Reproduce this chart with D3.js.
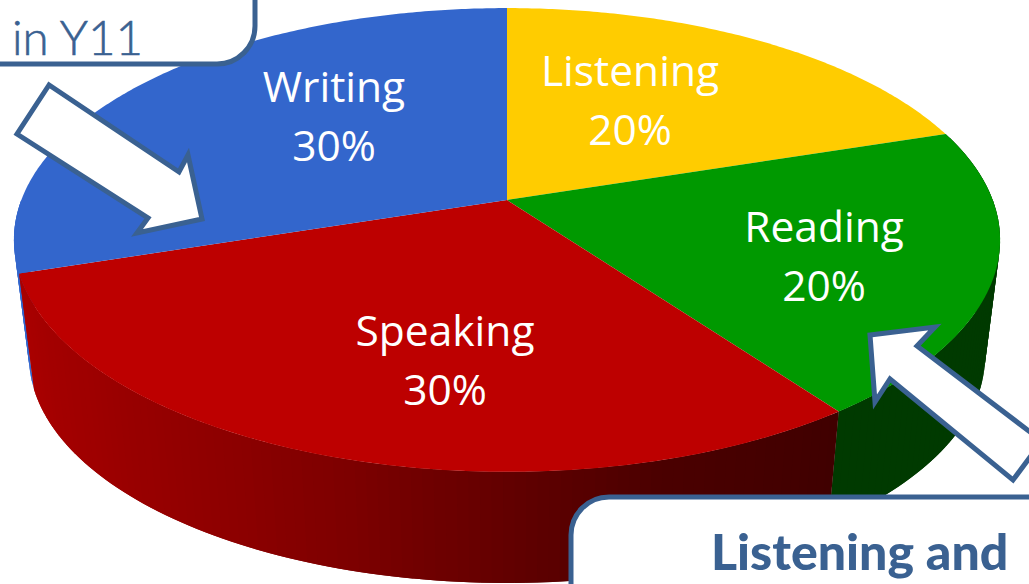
<!DOCTYPE html>
<html>
<head>
<meta charset="utf-8">
<script src="https://cdn.jsdelivr.net/npm/d3@7"></script>
<style>
    html, body { margin: 0; padding: 0; background: #fff; overflow: hidden; }
    svg { display: block; }
</style>
</head>
<body>
<script>
// chart data, clockwise from 12 o'clock
let categories = ["Listening", "Reading", "Speaking", "Writing"];
let shares = [20, 20, 30, 30];
let shareLabels = ["20%", "20%", "30%", "30%"];
let topColors = ["#ffcc00", "#009900", "#bd0000", "#3366cc"];
let notes = ["in Y11", "Listening and"];

function main(){
    let width = 1029;
    let height = 584;
    let ink = "#3a6191";

    let svg = d3.select("body").append("svg")
        .attr("width", width)
        .attr("height", height);

    let slices = d3.pie().sort(null).value(d => d)(shares);

    // tilted disc, k is the perspective foreshortening
    let k = 0.1724;
    let topDisc = {x: 507, y: 200, a: 485.7, b: 225};
    let lowDisc = {x: 507, y: 318, a: 470.8, b: 219.3};

    function project(disc, angle){
        let w = 1 + k * Math.cos(angle);
        return [disc.x + disc.a * Math.sin(angle) / w,
                disc.y - disc.b * Math.cos(angle) / w];
    }

    function steps(from, to, size){
        let n = Math.ceil((to - from) / size);
        return d3.range(n + 1).map(i => from + (to - from) * i / n);
    }

    let line = d3.line();
    let deg = Math.PI / 180;

    // side wall, shaded per strip
    let redShade = d3.scaleLinear()
        .domain([144, 165, 180, 195, 210, 230, 252])
        .range(["#400000", "#4b0000", "#620000", "#7c0000", "#8e0000", "#9e0000", "#aa0000"]);

    function wall(from, to, color){
        let angles = steps(from, to, 0.02);
        let g = svg.append("g");
        angles.slice(1).forEach((b, i) => {
            let a = angles[i];
            // strips overlap the next one so no seams show
            let end = Math.min(b + 0.02, to);
            g.append("path")
                .attr("d", line([project(topDisc, a), project(topDisc, end),
                                 project(lowDisc, end), project(lowDisc, a)]) + "Z")
                .attr("fill", color((a + b) / 2 / deg));
        });
    }

    wall(slices[3].startAngle, 270 * deg, () => "#3366cc");
    wall(slices[1].startAngle, slices[1].endAngle, () => "#003a00");
    wall(slices[2].startAngle, slices[2].endAngle, redShade);

    // top faces
    svg.append("g").selectAll("path")
        .data(slices)
        .enter()
        .append("path")
        .attr("d", d => line([[topDisc.x, topDisc.y]].concat(
            steps(d.startAngle, d.endAngle, 0.01).map(a => project(topDisc, a)))) + "Z")
        .attr("fill", (d, i) => topColors[i]);

    // slice labels
    let labelAt = [[630, 86], [824, 242], [445, 346], [334, 102]];
    let labels = svg.append("g")
        .attr("fill", "#fff")
        .attr("font-family", "'Open Sans', sans-serif")
        .attr("font-size", 42.5)
        .attr("text-anchor", "middle");

    categories.forEach((name, i) => {
        labels.append("text")
            .attr("x", labelAt[i][0])
            .attr("y", labelAt[i][1])
            .text(name);
        labels.append("text")
            .attr("x", labelAt[i][0])
            .attr("y", labelAt[i][1] + 59)
            .text(shareLabels[i]);
    });

    // callout arrows
    let arrows = [
        [[49, 85], [17, 134], [148, 218], [137, 233], [202, 219], [188, 155], [179, 172]],
        [[870, 335], [935, 327], [917, 346], [1042, 441], [1013, 480], [890, 379], [875, 402]]
    ];
    svg.append("g").selectAll("path")
        .data(arrows)
        .enter()
        .append("path")
        .attr("d", d => line(d) + "Z")
        .attr("fill", "#fff")
        .attr("stroke", ink)
        .attr("stroke-width", 5);

    // callout boxes, both run off the picture
    svg.append("rect")
        .attr("x", -100).attr("y", -100)
        .attr("width", 355).attr("height", 164)
        .attr("rx", 38)
        .attr("fill", "#fff")
        .attr("stroke", ink)
        .attr("stroke-width", 5);

    svg.append("rect")
        .attr("x", 571).attr("y", 497)
        .attr("width", 600).attr("height", 300)
        .attr("rx", 38)
        .attr("fill", "#fff")
        .attr("stroke", ink)
        .attr("stroke-width", 5);

    svg.append("text")
        .attr("x", 12).attr("y", 55)
        .attr("fill", ink)
        .attr("stroke", ink)
        .attr("stroke-width", 0.6)
        .attr("font-family", "Lato, sans-serif")
        .attr("font-weight", 300)
        .attr("font-size", 47.5)
        .text(notes[0]);

    svg.append("text")
        .attr("x", 711).attr("y", 570)
        .attr("fill", ink)
        .attr("font-family", "Lato, sans-serif")
        .attr("font-weight", 900)
        .attr("font-size", 50)
        .text(notes[1]);
}

main();
</script>
</body>
</html>
